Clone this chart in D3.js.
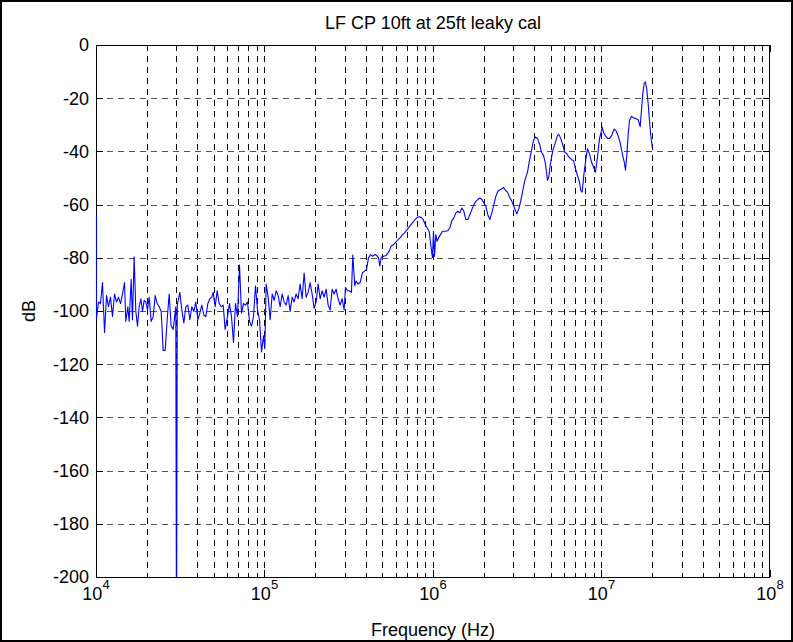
<!DOCTYPE html>
<html>
<head>
<meta charset="utf-8">
<script src="https://cdn.jsdelivr.net/npm/d3@7"></script>
<style>
  body { margin: 0; background: #fff; }
  svg { display: block; }
  text { font-family: "Liberation Sans", Arial, sans-serif; fill: #000; }
</style>
</head>
<body>
<svg width="793" height="642"></svg>
<script>
// measured response, frequency in Hz and level in dB
const freqHz = [
  10000, 10000, 10280, 10560, 10850, 11160, 11470, 11780, 12110, 12440,
  12790, 13140, 13510, 13880, 14270, 14660, 14930, 15340, 15630, 16060,
  16350, 16730, 17120, 17510, 17910, 18330, 18750, 19180, 19620, 20080,
  20540, 21110, 21690, 22290, 22910, 23550, 24200, 24870, 25560, 26270,
  26990, 27740, 28510, 29550, 29840, 30150, 31230, 32100, 32980, 33900,
  34830, 35800, 36790, 37810, 38860, 39940, 41040, 42180, 43350, 44550,
  45780, 47050, 48360, 49250, 50610, 52010, 53460, 54940, 56460, 58030,
  59900, 61560, 63270, 65020, 66820, 68680, 70580, 72530, 74540, 76610,
  78730, 80920, 83160, 85460, 87830, 90260, 92760, 95340, 97980, 99750,
  101600, 104400, 107300, 110300, 113300, 116500, 119700, 123000, 126400, 129900,
  133500, 137200, 141000, 144900, 148900, 153000, 157300, 161600, 166100, 170700,
  175400, 180300, 185300, 190400, 195700, 201100, 206700, 212400, 218300, 224400,
  230600, 237000, 243500, 250300, 257200, 264300, 271600, 279200, 286900, 294900,
  300300, 308600, 317100, 325900, 331900, 341100, 347400, 357000, 366900, 379000,
  389500, 400300, 411400, 422800, 434500, 446500, 458900, 471600, 480200, 489100,
  507300, 526000, 545600, 560700, 581600, 603100, 619800, 637000, 654600, 672800,
  697800, 723600, 750500, 778400, 799900, 822100, 844900, 868300, 892300, 917100,
  942500, 968500, 986300, 999900, 1014000, 1032000, 1051000, 1071000, 1100000, 1131000,
  1173000, 1216000, 1250000, 1285000, 1320000, 1357000, 1394000, 1433000, 1473000, 1514000,
  1555000, 1599000, 1643000, 1688000, 1735000, 1783000, 1833000, 1883000, 1936000, 1989000,
  2044000, 2101000, 2159000, 2219000, 2281000, 2344000, 2409000, 2475000, 2532000, 2602000,
  2675000, 2749000, 2825000, 2903000, 2984000, 3066000, 3122000, 3209000, 3298000, 3389000,
  3483000, 3613000, 3713000, 3815000, 3921000, 4030000, 4141000, 4256000, 4374000, 4495000,
  4620000, 4748000, 4835000, 4924000, 5107000, 5296000, 5443000, 5543000, 5697000, 5854000,
  6017000, 6184000, 6355000, 6590000, 6774000, 6961000, 7154000, 7352000, 7487000, 7625000,
  7836000, 8054000, 8202000, 8429000, 8662000, 8902000, 9149000, 9402000, 9663000, 9931000,
  10020000, 10210000, 10490000, 10780000, 11080000, 11380000, 11810000, 12130000, 12470000, 12820000,
  13170000, 13540000, 13790000, 14040000, 14300000, 14560000, 14960000, 15380000, 15950000, 16390000,
  16840000, 17150000, 17470000, 17790000, 18120000, 18450000, 18790000, 19130000, 19490000, 19850000,
  20030000
];

const levelDb = [
  -64, -102.7, -96.6, -97.2, -89.3, -108.1, -94.2, -98.4, -94.8, -102.1,
  -93.6, -96.6, -94.8, -97.2, -93.6, -89.3, -103.9, -98.4, -103.9, -88.1,
  -103.3, -79.6, -100.2, -105.7, -98.4, -95.4, -100.2, -96.0, -96.6, -99.6,
  -94.8, -103.9, -102.1, -94.2, -97.2, -98.4, -100.2, -114.8, -114.8, -103.3,
  -93.6, -105.7, -106.9, -98.4, -230, -97.8, -93.0, -99.6, -104.5, -98.4,
  -97.8, -103.3, -98.4, -100.2, -96.6, -103.3, -100.8, -97.8, -101.5, -102.1,
  -97.2, -95.4, -94.8, -93.0, -98.4, -92.4, -97.2, -98.4, -97.8, -106.9,
  -102.1, -97.2, -102.1, -111.8, -97.2, -102.1, -82.7, -100.8, -97.2, -97.8,
  -96.6, -103.9, -105.7, -102.1, -90.5, -99.6, -103.3, -115.4, -109.3, -114.2,
  -89.9, -94.8, -103.3, -93.6, -96.0, -92.4, -94.2, -98.4, -93.6, -96.6,
  -97.8, -94.2, -100.2, -94.8, -96.6, -93.6, -95.4, -89.9, -95.4, -85.7,
  -94.8, -93.0, -89.3, -93.6, -99.0, -96.6, -89.9, -95.4, -92.4, -94.8,
  -91.8, -97.8, -99.6, -91.8, -93.6, -91.8, -95.4, -97.8, -95.4, -99.6,
  -91.2, -92.4, -92.4, -93.0, -79.0, -90.5, -88.7, -89.9, -89.3, -85.6,
  -85.0, -84.4, -80.0, -78.8, -79.4, -78.8, -79.0, -80.0, -83.1, -79.8,
  -79.4, -79.0, -77.5, -75.6, -75.0, -73.8, -73.1, -72.3, -71.3, -70.6,
  -69.4, -68.1, -66.9, -65.6, -64.8, -64.6, -64.8, -65.6, -67.5, -68.8,
  -70.0, -76.3, -80.0, -70.0, -79.4, -71.3, -73.8, -72.5, -71.3, -70.0,
  -70.0, -69.8, -68.8, -66.0, -65.0, -63.1, -62.5, -63.1, -61.3, -62.5,
  -65.6, -65.6, -63.8, -61.9, -60.0, -58.8, -58.1, -57.5, -58.1, -59.4,
  -60.6, -63.8, -65.6, -63.1, -60.0, -56.9, -55.0, -54.4, -54.1, -53.5,
  -54.7, -55.3, -57.2, -58.5, -60.4, -62.3, -63.5, -61.6, -58.5, -54.7,
  -50.9, -47.8, -43.4, -39.6, -35.8, -34.6, -35.2, -37.1, -40.3, -41.5,
  -44.7, -50.9, -49.7, -45.3, -39.6, -36.5, -34.0, -33.6, -35.2, -37.7,
  -40.3, -40.9, -42.1, -43.1, -43.4, -46.5, -49.1, -51.6, -54.7, -55.3,
  -47.8, -42.1, -39.0, -40.9, -44.0, -45.9, -47.8, -42.1, -35.2, -32.3,
  -30.8, -32.9, -34.2, -35.1, -35.1, -34.2, -31.6, -32.3, -34.2, -36.8,
  -40.6, -43.9, -47.1, -41.3, -33.5, -28.4, -26.8, -27.4, -27.7, -28.1,
  -30.7, -24.5, -18.1, -14.5, -13.9, -16.8, -21.9, -28.4, -34.2, -38.1,
  -39.4
];

const yTicks = [0, -20, -40, -60, -80, -100, -120, -140, -160, -180, -200];
const xDecades = [4, 5, 6, 7, 8];

const svg = d3.select("svg");
const W = 793, H = 642;
const m = { left: 96, right: 770, top: 45, bottom: 577 };

// figure frame
svg.append("rect")
  .attr("x", 1).attr("y", 1)
  .attr("width", W - 2).attr("height", H - 2)
  .attr("fill", "#fff")
  .attr("stroke", "#000")
  .attr("stroke-width", 2);

const x = d3.scaleLog().domain([1e4, 1e8]).range([m.left, m.right]);
const y = d3.scaleLinear().domain([-200, 0]).range([m.bottom, m.top]);
const px = v => Math.round(v) + 0.5;

// log positions 1..9 in each decade
const logTicks = [];
xDecades.slice(0, -1).forEach(e => {
  for (let k = 1; k <= 9; k++) logTicks.push({ v: k * Math.pow(10, e), major: k === 1 });
});
logTicks.push({ v: 1e8, major: true });

// dashed grid
const grid = svg.append("g")
  .attr("stroke", "#000")
  .attr("stroke-width", 1)
  .attr("stroke-dasharray", "6,5")
  .attr("fill", "none");

grid.selectAll(".vg")
  .data(logTicks.filter(d => d.v > 1e4 && d.v < 1e8))
  .join("line")
  .attr("x1", d => px(x(d.v))).attr("x2", d => px(x(d.v)))
  .attr("y1", m.top).attr("y2", m.bottom);

grid.selectAll(".hg")
  .data(yTicks.filter(d => d > -200 && d < 0))
  .join("line")
  .attr("stroke", "#555")
  .attr("x1", m.left).attr("x2", m.right)
  .attr("y1", d => px(y(d))).attr("y2", d => px(y(d)));

// axes box and inward ticks
const axes = svg.append("g").attr("stroke", "#000").attr("stroke-width", 1);

axes.append("rect")
  .attr("x", m.left + 0.5).attr("y", m.top + 0.5)
  .attr("width", m.right - m.left - 1).attr("height", m.bottom - m.top)
  .attr("fill", "none");

logTicks.forEach(d => {
  const len = d.major ? 7 : 4;
  const xx = px(x(d.v));
  axes.append("line").attr("x1", xx).attr("x2", xx).attr("y1", m.bottom).attr("y2", m.bottom - len);
  axes.append("line").attr("x1", xx).attr("x2", xx).attr("y1", m.top).attr("y2", m.top + len);
});

yTicks.forEach(d => {
  const yy = px(y(d));
  axes.append("line").attr("x1", m.left).attr("x2", m.left + 7).attr("y1", yy).attr("y2", yy);
  axes.append("line").attr("x1", m.right).attr("x2", m.right - 7).attr("y1", yy).attr("y2", yy);
});

// the trace, drawn over the box so the left edge segment stays visible
svg.append("clipPath").attr("id", "plotClip")
  .append("rect")
  .attr("x", m.left - 1).attr("y", m.top)
  .attr("width", m.right - m.left + 1).attr("height", m.bottom - m.top);

const line = d3.line()
  .x((d, i) => x(freqHz[i]) + 0.5)
  .y(d => y(d));

svg.append("path")
  .datum(levelDb)
  .attr("clip-path", "url(#plotClip)")
  .attr("fill", "none")
  .attr("stroke", "#0000ff")
  .attr("stroke-width", 1.1)
  .attr("stroke-linejoin", "round")
  .attr("d", line);

// tick labels
svg.append("g")
  .selectAll("text")
  .data(yTicks)
  .join("text")
  .attr("x", m.left - 7)
  .attr("y", d => y(d))
  .attr("dy", "0.36em")
  .attr("text-anchor", "end")
  .attr("font-size", 18)
  .text(d => d);

const xl = svg.append("g")
  .selectAll("text")
  .data(xDecades)
  .join("text")
  .attr("x", d => x(Math.pow(10, d)))
  .attr("y", 600)
  .attr("text-anchor", "middle")
  .attr("font-size", 18);
xl.append("tspan").text("10");
xl.append("tspan").attr("dy", -11).attr("font-size", 13).text(d => d);

// titles
svg.append("text")
  .attr("x", (m.left + m.right) / 2)
  .attr("y", 29)
  .attr("text-anchor", "middle")
  .attr("font-size", 18)
  .text("LF CP 10ft at 25ft leaky cal");

svg.append("text")
  .attr("x", (m.left + m.right) / 2)
  .attr("y", 636)
  .attr("text-anchor", "middle")
  .attr("font-size", 18)
  .text("Frequency (Hz)");

svg.append("text")
  .attr("transform", `translate(35,${(m.top + m.bottom) / 2}) rotate(-90)`)
  .attr("text-anchor", "middle")
  .attr("font-size", 18)
  .text("dB");
</script>
</body>
</html>
